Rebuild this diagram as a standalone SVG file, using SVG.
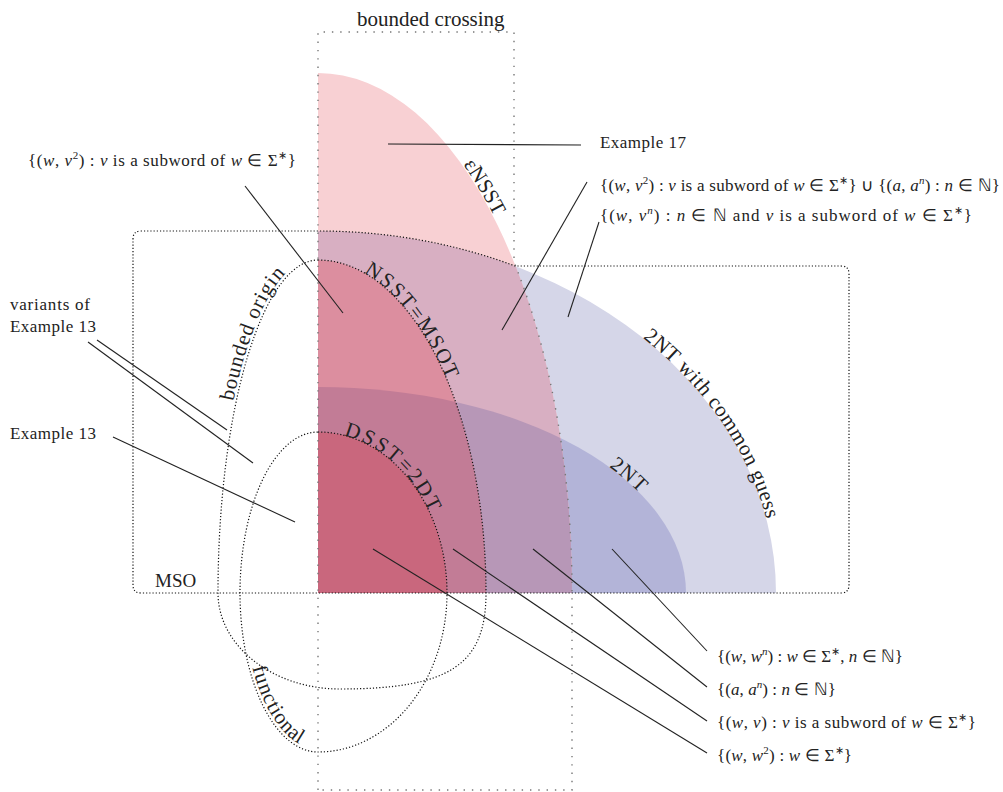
<svg xmlns="http://www.w3.org/2000/svg" width="1003" height="792" viewBox="0 0 1003 792">
<style>
.lbl{font-family:"Liberation Serif",serif;fill:#222;}
.cur{font-family:"Liberation Serif",serif;fill:#222;font-size:21px;}
.math{font-family:"Liberation Serif",serif;fill:#222;font-size:17px;}
.it{font-style:italic;}
.dotk{fill:none;stroke:#111;stroke-width:1.2;stroke-dasharray:1.2 2;}
.dotg{fill:none;stroke:#777;stroke-width:1.4;stroke-dasharray:1.4 6.9;}
.con{stroke:#222;stroke-width:1.1;fill:none;}
</style>
<defs>
<path id="sh-lav" d="M318,593 L318,231 A458,362 0 0 1 776,593 Z"/>
<path id="sh-2nt" d="M318,593 L318,387 A368,206 0 0 1 686,593 Z"/>
<path id="sh-pink" d="M318,593 L318,73 A254,520 0 0 1 572,593 Z"/>
<path id="sh-nsst" d="M318,593 L318,260 A168,333 0 0 1 486,593 Z"/>
<path id="sh-dsst" d="M318,593 L318,432 A129,161 0 0 1 447,593 Z"/>
<clipPath id="cl-lav"><use href="#sh-lav"/></clipPath>
<clipPath id="cl-2nt"><use href="#sh-2nt"/></clipPath>
<path id="p-enss" d="M318,73 A254,520 0 0 1 572,593"/>
<path id="p-nsst" d="M318,260 A168,333 0 0 1 486,593"/>
<path id="p-bo" d="M218,593 A100,333 0 0 1 318,260"/>
<path id="p-dsst" d="M318,432 A129,161 0 0 1 447,593"/>
<path id="p-func" d="M240,593 A78,159 0 0 0 318,752"/>
<path id="p-2ntc" d="M318,231 A458,362 0 0 1 776,593"/>
<path id="p-2nt" d="M318,387 A368,206 0 0 1 686,593"/>
</defs>

<g id="regions">
<use href="#sh-lav" fill="#d5d6e8"/>
<use href="#sh-2nt" fill="#b3b4d8"/>
<use href="#sh-pink" fill="#f8d0d3"/>
<use href="#sh-pink" fill="#d8afc2" clip-path="url(#cl-lav)"/>
<use href="#sh-pink" fill="#b797b7" clip-path="url(#cl-2nt)"/>
<use href="#sh-nsst" fill="#dc8e9f"/>
<use href="#sh-nsst" fill="#c27c96" clip-path="url(#cl-2nt)"/>
<use href="#sh-dsst" fill="#c9677d"/>
</g>

<g id="bounded-crossing">
<path class="dotg" d="M318,790 L318,32 L514,32 L514,262 A254,520 0 0 1 572,593 L572,790 L318,790"/>
<text class="lbl" x="357" y="26" font-size="21">bounded crossing</text>
</g>

<g id="mso">
<path class="dotk" d="M133,585 L133,239 Q133,231 141,231 L318,231 A458,362 0 0 1 515,266 L841,266 Q849,266 849,274 L849,585 Q849,593 841,593 L141,593 Q133,593 133,585 Z"/>
<text class="lbl" x="155" y="587" font-size="19">MSO</text>
</g>

<g id="bounded-origin">
<path class="dotk" d="M318,260 A168,333 0 0 1 486,593 C486,665 449.5,689 340,689 C273,689 218,646 218,593 A100,333 0 0 1 318,260 Z"/>
<text class="cur" letter-spacing="0.8" dy="-3"><textPath href="#p-bo" startOffset="192">bounded origin</textPath></text>
</g>

<g id="functional">
<path class="dotk" d="M318,432 A129,161 0 0 1 447,593 A129,159 0 0 1 318,752 A78,159 0 0 1 240,593 A78,161 0 0 1 318,432 Z"/>
<text class="cur" letter-spacing="1" dy="-3"><textPath href="#p-func" startOffset="76">functional</textPath></text>
</g>

<g id="enss">
<text class="cur" dy="-1"><textPath href="#p-enss" startOffset="178">εNSST</textPath></text>
</g>
<g id="nsst">
<text class="cur" letter-spacing="2"><textPath href="#p-nsst" startOffset="48">NSST=MSOT</textPath></text>
</g>
<g id="dsst">
<text class="cur" letter-spacing="2.5"><textPath href="#p-dsst" startOffset="26">DSST=2DT</textPath></text>
</g>
<g id="twont-cg">
<text class="cur" letter-spacing="0.6"><textPath href="#p-2ntc" startOffset="348">2NT with common guess</textPath></text>
</g>
<g id="twont">
<text class="cur" letter-spacing="1"><textPath href="#p-2nt" startOffset="306">2NT</textPath></text>
</g>

<g id="connectors">
<line class="con" x1="388" y1="144" x2="581" y2="145"/>
<line class="con" x1="245" y1="186" x2="343" y2="313"/>
<line class="con" x1="587" y1="182" x2="502" y2="330"/>
<line class="con" x1="599" y1="222" x2="568" y2="317"/>
<line class="con" x1="97" y1="340" x2="227" y2="430"/>
<line class="con" x1="88" y1="342" x2="253" y2="463"/>
<line class="con" x1="113" y1="437" x2="295" y2="522"/>
<line class="con" x1="612" y1="549" x2="707" y2="651"/>
<line class="con" x1="533" y1="549" x2="707" y2="687"/>
<line class="con" x1="453" y1="549" x2="707" y2="721"/>
<line class="con" x1="373" y1="549" x2="707" y2="753"/>
</g>

<g id="labels">
<text class="lbl" x="600" y="148" font-size="17" textLength="86" lengthAdjust="spacing">Example 17</text>
<text class="lbl" x="10" y="310" font-size="17" textLength="80" lengthAdjust="spacing">variants of</text>
<text class="lbl" x="10" y="332" font-size="17" textLength="86" lengthAdjust="spacing">Example 13</text>
<text class="lbl" x="10" y="439" font-size="17" textLength="86" lengthAdjust="spacing">Example 13</text>

<text class="math" x="28" y="166" textLength="268" lengthAdjust="spacing">{(<tspan class="it">w</tspan>, <tspan class="it">v</tspan><tspan font-size="11" dy="-7">2</tspan><tspan dy="7">) :  </tspan><tspan class="it">v</tspan> is a subword of <tspan class="it">w</tspan> ∈ Σ<tspan font-size="11" dy="-7">∗</tspan><tspan dy="7">}</tspan></text>

<text class="math" x="600" y="191" textLength="400" lengthAdjust="spacing">{(<tspan class="it">w</tspan>, <tspan class="it">v</tspan><tspan font-size="11" dy="-7">2</tspan><tspan dy="7">) : </tspan><tspan class="it">v</tspan> is a subword of <tspan class="it">w</tspan> ∈ Σ<tspan font-size="11" dy="-7">∗</tspan><tspan dy="7">} ∪ {(</tspan><tspan class="it">a</tspan>, <tspan class="it">a</tspan><tspan class="it" font-size="11" dy="-7">n</tspan><tspan dy="7">) : </tspan><tspan class="it">n</tspan> ∈ ℕ}</text>

<text class="math" x="600" y="221" textLength="372" lengthAdjust="spacing">{(<tspan class="it">w</tspan>, <tspan class="it">v</tspan><tspan class="it" font-size="11" dy="-7">n</tspan><tspan dy="7">) : </tspan><tspan class="it">n</tspan> ∈ ℕ and <tspan class="it">v</tspan> is a subword of <tspan class="it">w</tspan> ∈ Σ<tspan font-size="11" dy="-7">∗</tspan><tspan dy="7">}</tspan></text>

<text class="math" x="717" y="662" textLength="186" lengthAdjust="spacing">{(<tspan class="it">w</tspan>, <tspan class="it">w</tspan><tspan class="it" font-size="11" dy="-7">n</tspan><tspan dy="7">) : </tspan><tspan class="it">w</tspan> ∈ Σ<tspan font-size="11" dy="-7">∗</tspan><tspan dy="7">, </tspan><tspan class="it">n</tspan> ∈ ℕ}</text>

<text class="math" x="717" y="695" textLength="119" lengthAdjust="spacing">{(<tspan class="it">a</tspan>, <tspan class="it">a</tspan><tspan class="it" font-size="11" dy="-7">n</tspan><tspan dy="7">) : </tspan><tspan class="it">n</tspan> ∈ ℕ}</text>

<text class="math" x="717" y="728" textLength="259" lengthAdjust="spacing">{(<tspan class="it">w</tspan>, <tspan class="it">v</tspan>) :  <tspan class="it">v</tspan> is a subword of <tspan class="it">w</tspan> ∈ Σ<tspan font-size="11" dy="-7">∗</tspan><tspan dy="7">}</tspan></text>

<text class="math" x="717" y="761" textLength="135" lengthAdjust="spacing">{(<tspan class="it">w</tspan>, <tspan class="it">w</tspan><tspan font-size="11" dy="-7">2</tspan><tspan dy="7">) : </tspan><tspan class="it">w</tspan> ∈ Σ<tspan font-size="11" dy="-7">∗</tspan><tspan dy="7">}</tspan></text>
</g>
</svg>
